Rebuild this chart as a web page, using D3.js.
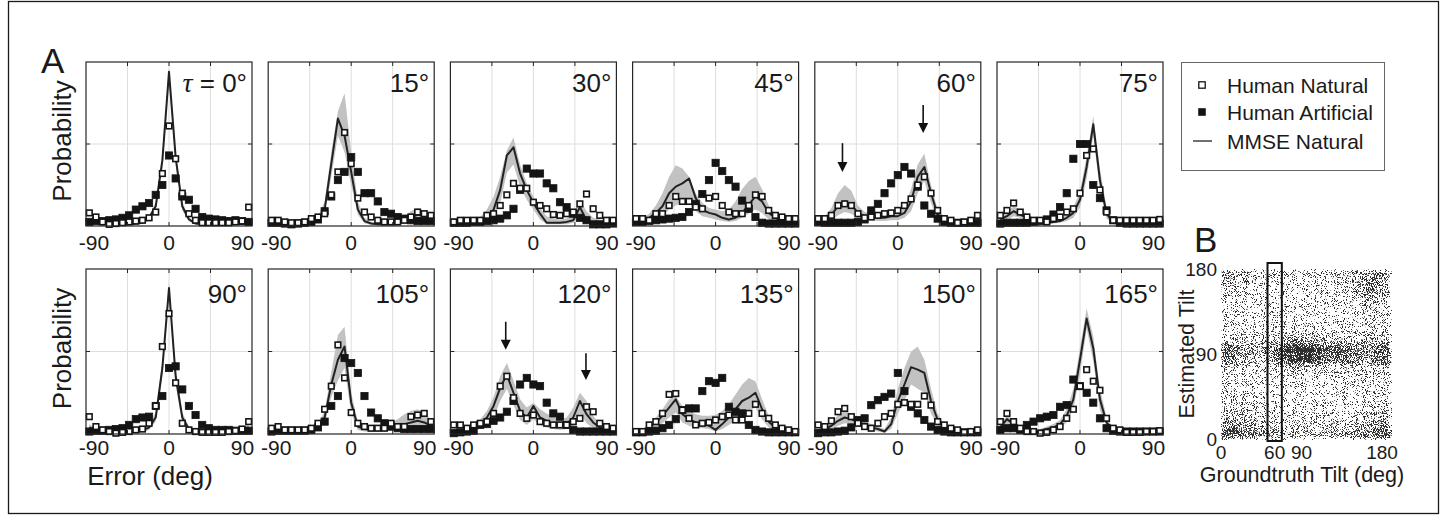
<!DOCTYPE html>
<html><head><meta charset="utf-8">
<script src="https://cdn.jsdelivr.net/npm/d3@7"></script>
<style>
html,body{margin:0;padding:0;background:#fff;}
svg{display:block;font-family:"Liberation Sans",Arial,Helvetica,sans-serif;}
</style></head><body>
<svg id="fig" width="1446" height="521"></svg>
<script>
// ---------------- DATA ----------------
const errorBins = [-86.4,-79.2,-72,-64.8,-57.6,-50.4,-43.2,-36,-28.8,-21.6,-14.4,-7.2,0,7.2,14.4,21.6,28.8,36,43.2,50.4,57.6,64.8,72,79.2,86.4];
const tauValues = [0,15,30,45,60,75,90,105,120,135,150,165];
const xTicks = [-90,0,90];
const xGrid = [-45,0,45];
const yGrid = [20];
const yMax = 40; // probability, percent

// Human Natural (open squares), percent
const humanNatural = [
 [3.2,2.2,1,0.4,0.6,0.8,1,1.2,1.4,2,3.4,12.8,24.4,16.4,8,3,1.4,0.8,0.8,0.8,0.8,0.8,1,1.2,4.6],
 [1.4,1.4,1,0.8,0.8,1,1.8,2.2,3,7.6,13.2,22.8,15.2,6.8,3.4,2.2,1.4,1,1,1,1.4,2.2,3.4,3,2.6],
 [1,1.4,1.4,1.4,1.4,2.6,3,5,7.6,10.4,9.2,9.2,5.8,5,4.2,2.8,2.6,3,3.4,5.4,7.8,4.2,2.6,1.4,1.4],
 [1.8,1.8,1.4,3,3,5,7.2,6,6,4.6,4.2,6.8,7.2,5,3.4,3,3,5,7.6,7.2,3.8,2.6,2.2,1.8,1.8],
 [1.8,1.8,2.6,5,5.4,5,3,2,2.2,2.6,3,3.2,3.8,5,6.6,10,12,8,3.8,1.8,1.4,0.8,1,1.4,2.6],
 [2.6,3.8,5.6,3.4,2.2,1.4,1.4,1,1.8,2.2,3.4,4.2,8,17.2,18.8,8.8,3.4,1.4,1.4,1.4,1.4,1.4,1.4,1.4,1.6],
 [4.2,1.8,1,0.6,0.2,0.4,0.6,1,1.2,2.6,6.8,21.2,29.2,12.4,2.6,1,0.6,0.4,0.4,0.4,0.4,0.6,0.8,1.2,3],
 [1.4,1.8,1,1,1,1,1.4,2.6,6,11.6,21.6,13.6,5.2,2.6,1.8,1.4,1.4,1.4,2.6,1.8,1.8,4.2,4.6,5,3],
 [2.2,2.2,1.4,2.2,2.6,3,5,11.6,14,8.8,5,3.8,4.6,3,2.6,2.2,2.2,2.2,3,3.8,6.6,5.4,2.6,1.8,1.4],
 [0.6,0.6,2.2,3,5,9.6,9.8,5.8,3.8,2.2,2.6,2.8,3.4,4.2,4.6,3.4,3.4,5,7.2,5,3.8,2.2,1.4,1,0.6],
 [2.2,1.8,3.2,5.4,6.2,4.2,2.6,1.8,1.4,2.6,4.2,5,7.2,7.6,7.2,7.2,9.2,7,3,2.2,1.4,1,0.4,0.6,1],
 [3,5,3,1.4,0.6,0.6,0.2,0.4,1,1.8,3.8,6,11.6,15.6,12.8,10.6,3.8,1.4,1,0.4,0.4,0.4,0.6,0.6,0.8]
];
// Human Artificial (filled squares), percent
const humanArtificial = [
 [1,1.2,1.2,1.4,1.6,2,2.6,4,4.8,5.6,7.6,10,17.2,11.6,7.2,6.4,4.2,2.2,1.8,1.6,1.4,1.2,1.4,1.2,1],
 [0.8,0.8,0.6,0.4,0.6,0.8,1,1.6,3.6,7.2,11.2,13.2,16.8,13.2,8,8,6,3.4,3,2.2,1.8,1.4,1.2,1.2,1.2],
 [0.8,0.8,0.8,1,1,1.2,1.4,1.8,2.6,4.2,8.8,14,12.8,12.8,10.4,9.2,5.8,4.6,3,2,1.4,0.4,0.4,0.4,0.6],
 [1,1,1.2,1.4,1.6,1.8,2,2.2,3.4,5.4,7.8,11.2,15.4,13.4,11.2,9.6,6.2,4.2,2.2,0.8,0.6,0.6,0.6,0.6,0.6],
 [1,0.8,0.8,0.8,0.8,0.8,1,1.6,3.8,5.4,8,10.4,12.4,14.4,12.8,9.6,5,3,1.8,1,0.8,0.8,0.8,0.8,0.8],
 [0.6,0.8,0.8,0.8,0.8,1,1.2,1.6,2.8,4.6,8,16.4,20,20,10,6.8,3.8,1.4,0.8,0.6,0.6,0.6,0.6,0.6,0.6],
 [0.6,0.8,0.8,1,1.2,1.4,2.2,3.6,4,4.2,6.8,9.2,16,16.4,10.8,6.8,4.6,2.2,1.4,1,1,1,0.8,0.8,0.8],
 [0.6,0.8,0.8,0.8,0.8,0.8,1,1.6,3,6.8,9.2,18.4,17.2,14.8,9.2,5.2,3.8,2.6,1.8,1.4,1.2,1.2,1.2,1.2,1.2],
 [0.2,0.4,0.6,0.8,2.2,2.4,3.2,4,5.4,8,12,13.6,12,11.6,7.6,5,4.2,2.2,1,0.6,0.6,0.6,0.6,0.6,0.6],
 [0.4,0.4,0.6,0.8,1.4,2.2,3.6,5.8,6.2,6.2,10.4,12.8,12.4,13.6,6.6,5.4,5,2.2,1,0.6,0.4,0.4,0.4,0.4,0.4],
 [0.2,0.4,0.4,0.6,0.8,1.6,3.4,3.8,7,8.2,9,9.8,14.8,10.4,6.6,5,3.4,1.8,1,0.6,0.4,0.4,0.4,0.4,0.4],
 [1,1.4,1.4,1,2.2,3,3.8,4.2,4.6,6.6,7,13.2,11.6,10,7.6,3.8,1.4,0.8,0.6,0.6,0.6,0.6,0.6,0.6,0.6]
];
// MMSE Natural (line), percent
const mmseNatural = [
 [1.2,0.8,0.4,0.4,0.4,0.4,0.4,0.6,0.8,2,4.8,16,37.6,16.8,4.8,1.6,0.6,0.4,0.4,0.4,0.4,0.4,0.6,0.8,1.2],
 [0.4,0.4,0.4,0.4,0.4,0.4,0.8,1.6,4,15.2,26.2,22,13.2,4,1.2,0.6,0.4,0.4,0.4,0.6,1.2,2,2.8,2.4,1.6],
 [0.8,0.8,0.8,1,1.2,2.4,4,8.8,17.2,19.2,12.8,8.8,5.6,3,0.8,0.8,0.8,1,1.4,4.6,1.4,0.8,0.8,0.8,0.8],
 [1.2,1.2,2,3.2,4.8,8,9.6,10.4,11.6,6.8,4,3.2,2.8,2,1.6,2,3.2,5.2,7.2,6,3.2,2,1.2,1.2,1.2],
 [1.2,1.6,2.8,4.8,6,5.2,3.2,2.4,2.4,2,2,2.4,2.4,3.2,6,12,14.4,8,2.8,1.6,1.2,1.2,1.2,1.2,1.2],
 [1.6,2.4,3.6,2.8,2,1.2,0.8,0.8,1,1.2,2,3.2,6.4,14.4,24.8,11.2,3,0.8,0.6,0.4,0.4,0.4,0.4,0.6,0.8],
 [1.6,0.8,0.4,0.4,0.4,0.4,0.4,0.6,0.8,1.6,4,16,35.4,14,4,1.2,0.6,0.4,0.4,0.4,0.4,0.4,0.6,0.8,1.6],
 [0.8,0.8,0.6,0.6,0.6,0.6,0.8,1.6,4,12,18,21.2,7.6,1.8,1.2,1,1,1.2,1.6,2,2.4,2.8,3.2,2.8,2],
 [0.8,0.8,1.2,1.6,2.4,4,6.8,11.2,14.4,10,5.6,4,6.8,4,3.2,2.4,2,2.4,4,8,4.8,2.8,1.6,1.2,0.8],
 [0.6,0.8,1.6,2.8,4.4,6.4,8.4,4.8,3.6,2.8,2.4,2,1,2.4,4,6,8,8.8,10,6,3,1.6,0.8,0.6,0.6],
 [0.8,1.2,2,3.2,4,3.6,2.8,2,1.6,1.2,0.6,2.4,8,12,16.2,15.6,14.8,8,3.4,1.6,0.8,0.6,0.6,0.6,0.8],
 [1.6,3.6,2.4,1.2,0.8,0.8,0.8,1.2,1.6,2.4,4.4,8.4,18,28,20.8,8.4,2.8,0.8,0.4,0.4,0.4,0.4,0.4,0.6,0.8]
];
// MMSE spread (grey band) lower / upper, percent
const mmseLow = [
 [0.8,0.4,0.2,0.2,0.2,0.2,0.2,0.3,0.5,1.4,3.8,14,35,15,3.8,1.2,0.4,0.2,0.2,0.2,0.2,0.2,0.4,0.6,0.8],
 [0.2,0.2,0.2,0.2,0.2,0.2,0.4,1,2.8,12,22,18,10,2.8,0.6,0.3,0.2,0.2,0.2,0.3,0.6,1.2,1.8,1.4,1],
 [0.4,0.4,0.4,0.4,0.6,1.2,2.4,5.6,13,15,9.6,6.4,4,1.6,0.4,0.4,0.4,0.4,0.8,2.8,0.6,0.4,0.4,0.4,0.4],
 [0.6,0.6,1,1.6,2.4,4,5,5.6,6,3.6,2.4,2,1.6,1.2,1,1.2,2,3,4,3.2,1.6,1,0.6,0.6,0.6],
 [0.6,0.8,1.4,2.6,3.4,3,1.8,1.4,1.4,1.2,1.2,1.4,1.4,2,3.6,8,11,5.6,1.6,0.8,0.6,0.6,0.6,0.6,0.6],
 [1,1.6,2.4,2,1.2,0.8,0.4,0.4,0.6,0.8,1.2,2,4.6,11.6,22,8.6,1.8,0.4,0.3,0.2,0.2,0.2,0.2,0.3,0.4],
 [1,0.4,0.2,0.2,0.2,0.2,0.2,0.3,0.4,1,3,14,33.5,12,3,0.8,0.3,0.2,0.2,0.2,0.2,0.2,0.3,0.4,1],
 [0.4,0.4,0.3,0.3,0.3,0.3,0.4,1,2.6,9,13,16,5,1,0.6,0.5,0.5,0.6,0.8,1,1.2,1.4,1.6,1.4,1],
 [0.4,0.4,0.6,0.8,1.2,2,4,8,11,7,3.4,2.2,3.6,2.2,1.6,1.2,1,1.2,2,5,2.6,1.4,0.8,0.6,0.4],
 [0.4,0.4,0.8,1.6,2.6,4,5.2,2.8,2,1.6,1.4,1.2,0.6,1.2,2.2,3.4,4.8,5.6,6.4,3.6,1.6,0.8,0.4,0.4,0.4],
 [0.4,0.6,1.2,2,2.6,2.4,1.8,1.2,1,0.6,0.3,1.2,5,8,12,11,10,5,2,0.8,0.4,0.3,0.3,0.3,0.4],
 [0.8,2.4,1.4,0.6,0.4,0.4,0.4,0.6,0.8,1.4,2.8,6,14.4,25.6,17.6,5.8,1.6,0.4,0.2,0.2,0.2,0.2,0.2,0.3,0.4]
];
const mmseHigh = [
 [1.8,1.2,0.7,0.6,0.6,0.6,0.7,0.9,1.2,2.6,5.8,17.5,38.5,18,5.8,2.2,0.9,0.6,0.6,0.6,0.6,0.7,0.9,1.2,1.8],
 [0.8,0.8,0.7,0.7,0.7,0.8,1.2,2.4,6,18,28,32.4,18,6,2,1,0.8,0.8,0.8,1.2,2.4,3.6,4.4,3.6,2.4],
 [1.4,1.4,1.4,1.6,2.2,4,7.2,12,18.4,21.6,15,10.4,7.2,4.4,2.4,1.8,1.6,1.8,3,6.4,3.6,2,1.6,1.4,1.4],
 [1.6,1.8,3,5,8,12,14.8,14,12,8,5.6,4.4,4,3.6,4,6,9,11,12,9,5,2.8,1.8,1.6,1.6],
 [1.8,2.4,4.4,8,10,8.6,5,3.4,3.2,2.8,2.8,3.2,3.4,4.6,9,15,17.6,10,4,2.2,1.6,1.6,1.6,1.6,1.6],
 [2.4,3.4,4.8,4,3,2,1.4,1.2,1.4,1.8,3,4.6,8.4,17,26.8,14,4.6,1.4,1,0.8,0.8,0.8,1,1.4,2.4],
 [2.4,1.2,0.7,0.6,0.6,0.6,0.6,0.9,1.2,2.2,5.2,18,37,16,5.2,1.8,0.9,0.6,0.6,0.6,0.6,0.6,0.9,1.2,2.4],
 [1.2,1.2,1,1,1,1,1.2,2.4,5.6,15,24,26,10,3,2,1.6,1.6,2,2.8,3.6,4.8,5.6,6,5.2,3.6],
 [1.2,1.2,1.8,2.4,3.6,5.6,9,14,17.2,13,8.4,6.4,7.6,6,5,4.2,3.6,4,6.4,10,8,4.4,2.4,1.6,1.2],
 [1,1.2,2.4,4,6,8.4,9.2,6.8,5.6,4.8,4.4,4.4,4.6,5.6,7.2,9.6,12,13.6,12.8,8.4,4.4,2.4,1.2,1,1],
 [1.2,1.8,3,4.6,5.6,5,4,3,2.4,1.8,1.2,4,11,16,20,21.2,18,11,5,2.4,1.2,0.9,0.9,0.9,1.2],
 [2.4,4.6,3.4,1.8,1.2,1.2,1.2,1.8,2.4,3.4,6,11,21,30.4,23.6,11,4.2,1.4,0.8,0.6,0.6,0.6,0.6,1,1.4]
];
// arrows: panel index, error (deg), top and tip (percent)
const arrowPanel = [4,4,8,8];
const arrowX = [-60,27.5,-30,57];
const arrowTop = [20.2,29.5,27.2,19.6];
const arrowTip = [13.2,22.7,20.4,13.1];

// Panel B: density of (groundtruth, estimated) tilt, rows from estimated 180 (top) down to 0
const tiltColEdges = [0,10,20,30,40,50,60,70,80,90,100,110,120,130,140,150,160,170,180,190];
const tiltRowEdges = [180,170,160,150,140,130,120,110,100,90,80,70,60,50,40,30,20,10,0];
const tiltDensity = [
 [0.55,0.5,0.45,0.4,0.4,0.4,0.4,0.35,0.35,0.35,0.35,0.35,0.4,0.4,0.45,0.55,0.6,0.6,0.55],
 [0.45,0.4,0.35,0.3,0.3,0.3,0.3,0.3,0.3,0.3,0.3,0.3,0.3,0.35,0.4,0.5,0.6,0.55,0.45],
 [0.4,0.35,0.3,0.3,0.3,0.3,0.3,0.3,0.25,0.25,0.3,0.3,0.3,0.3,0.35,0.45,0.55,0.5,0.4],
 [0.35,0.3,0.3,0.25,0.3,0.3,0.3,0.25,0.25,0.25,0.25,0.3,0.3,0.3,0.3,0.4,0.45,0.4,0.35],
 [0.35,0.3,0.25,0.25,0.25,0.3,0.25,0.25,0.25,0.25,0.25,0.25,0.3,0.3,0.3,0.35,0.4,0.35,0.35],
 [0.35,0.3,0.25,0.25,0.25,0.25,0.25,0.25,0.25,0.25,0.25,0.25,0.25,0.3,0.3,0.3,0.35,0.35,0.35],
 [0.35,0.3,0.3,0.3,0.3,0.3,0.3,0.3,0.3,0.3,0.3,0.3,0.3,0.3,0.3,0.35,0.35,0.35,0.35],
 [0.45,0.4,0.4,0.35,0.35,0.4,0.45,0.5,0.5,0.5,0.45,0.45,0.4,0.4,0.4,0.4,0.45,0.45,0.45],
 [0.7,0.6,0.55,0.5,0.5,0.55,0.7,0.85,0.95,0.95,0.9,0.75,0.7,0.7,0.65,0.6,0.6,0.65,0.7],
 [0.65,0.55,0.5,0.45,0.45,0.5,0.65,0.8,0.9,0.9,0.85,0.7,0.65,0.65,0.6,0.55,0.55,0.6,0.65],
 [0.4,0.35,0.3,0.3,0.3,0.35,0.4,0.45,0.45,0.45,0.4,0.4,0.35,0.35,0.35,0.35,0.35,0.4,0.4],
 [0.35,0.3,0.3,0.3,0.25,0.3,0.3,0.3,0.3,0.25,0.25,0.25,0.25,0.25,0.3,0.3,0.3,0.3,0.35],
 [0.35,0.3,0.3,0.3,0.25,0.25,0.25,0.25,0.25,0.25,0.25,0.25,0.25,0.25,0.25,0.3,0.3,0.35,0.35],
 [0.35,0.3,0.35,0.3,0.3,0.25,0.25,0.25,0.25,0.25,0.25,0.25,0.25,0.25,0.25,0.3,0.3,0.35,0.35],
 [0.4,0.35,0.4,0.35,0.3,0.3,0.3,0.25,0.25,0.25,0.25,0.25,0.25,0.25,0.3,0.3,0.35,0.4,0.4],
 [0.45,0.4,0.45,0.4,0.35,0.3,0.3,0.3,0.3,0.3,0.3,0.3,0.3,0.3,0.3,0.35,0.4,0.45,0.45],
 [0.6,0.55,0.55,0.5,0.45,0.4,0.35,0.35,0.35,0.35,0.35,0.35,0.35,0.35,0.4,0.45,0.5,0.55,0.6],
 [0.8,0.75,0.7,0.65,0.6,0.55,0.5,0.45,0.45,0.45,0.45,0.45,0.45,0.5,0.5,0.55,0.65,0.7,0.8]
];
const tiltTicks = [0,60,90,180];
const tiltYTicks = [0,90,180];
const highlightTilt = [52,68];

const legendLabels = ["Human Natural","Human Artificial","MMSE Natural"];

// ---------------- DRAW ----------------
const svg = d3.select("#fig");
const ink = "#1a1a1a";

// outer frame
svg.append("rect").attr("x",8.5).attr("y",1.5).attr("width",1430).attr("height",512)
  .attr("fill","none").attr("stroke",ink).attr("stroke-width",1.3);

const panelW = 166, rowTop = [62,269], rowH = [164,165], colLeft0 = 86, colStep = 182.2;
const titleBase = [92,303];
const tickBase = [250,455];
const sq = 7.2;

tauValues.forEach((tau,k)=>{
  const r = Math.floor(k/6), c = k%6;
  const x0 = colLeft0 + c*colStep, y0 = rowTop[r], h = rowH[r];
  const x = d3.scaleLinear().domain([-90,90]).range([x0,x0+panelW]);
  const y = d3.scaleLinear().domain([0,yMax]).range([y0+h,y0]);
  const g = svg.append("g");

  // grid
  g.selectAll(".gx").data(xGrid).join("line")
    .attr("x1",d=>x(d)).attr("x2",d=>x(d)).attr("y1",y0).attr("y2",y0+h)
    .attr("stroke","#dedede").attr("stroke-width",1);
  g.selectAll(".gy").data(yGrid).join("line")
    .attr("x1",x0).attr("x2",x0+panelW).attr("y1",d=>y(d)).attr("y2",d=>y(d))
    .attr("stroke","#dedede").attr("stroke-width",1);

  // band
  const idx = d3.range(errorBins.length);
  g.append("path").datum(idx)
    .attr("d", d3.area().x(i=>x(errorBins[i])).y0(i=>y(mmseLow[k][i])).y1(i=>y(mmseHigh[k][i])))
    .attr("fill","#c2c2c2").attr("stroke","none");
  // line
  g.append("path").datum(idx)
    .attr("d", d3.line().x(i=>x(errorBins[i])).y(i=>y(mmseNatural[k][i])))
    .attr("fill","none").attr("stroke","#222").attr("stroke-width",2).attr("stroke-linejoin","round");
  // filled squares
  g.selectAll(".art").data(idx).join("rect")
    .attr("x",i=>x(errorBins[i])-sq/2).attr("y",i=>y(humanArtificial[k][i])-sq/2)
    .attr("width",sq).attr("height",sq).attr("fill","#141414").attr("stroke","#141414").attr("stroke-width",0.8);
  // open squares
  g.selectAll(".nat").data(idx).join("rect")
    .attr("x",i=>x(errorBins[i])-(sq-1.6)/2).attr("y",i=>y(humanNatural[k][i])-(sq-1.6)/2)
    .attr("width",sq-1.6).attr("height",sq-1.6).attr("fill","#fff").attr("stroke","#141414").attr("stroke-width",1.6);

  // box
  g.append("rect").attr("x",x0).attr("y",y0).attr("width",panelW).attr("height",h)
    .attr("fill","none").attr("stroke","#262626").attr("stroke-width",1.2);
  // inner ticks
  const tl = 4;
  xGrid.forEach(v=>{
    g.append("line").attr("x1",x(v)).attr("x2",x(v)).attr("y1",y0).attr("y2",y0+tl).attr("stroke","#262626");
    g.append("line").attr("x1",x(v)).attr("x2",x(v)).attr("y1",y0+h).attr("y2",y0+h-tl).attr("stroke","#262626");
  });
  yGrid.forEach(v=>{
    g.append("line").attr("x1",x0).attr("x2",x0+tl).attr("y1",y(v)).attr("y2",y(v)).attr("stroke","#262626");
    g.append("line").attr("x1",x0+panelW).attr("x2",x0+panelW-tl).attr("y1",y(v)).attr("y2",y(v)).attr("stroke","#262626");
  });
  // tick labels
  const tdx = {"-90":8, "0":0, "90":-9.5};
  g.selectAll(".tl").data(xTicks).join("text")
    .attr("x",d=>x(d)+tdx[d]).attr("y",tickBase[r]).attr("text-anchor","middle")
    .attr("font-size",21).attr("fill",ink).text(d=>d);

  // title
  const t = g.append("text").attr("x",x0+panelW-5).attr("y",titleBase[r]).attr("text-anchor","end")
    .attr("font-size",26).attr("fill",ink);
  if (k===0) {
    t.append("tspan").attr("font-family","'Liberation Serif','DejaVu Serif',serif").attr("font-style","italic").attr("font-size",28).text("τ");
    t.append("tspan").text(" = " + tau + "°");
  } else {
    t.text(tau + "°");
  }

  // arrows
  arrowPanel.forEach((p,j)=>{
    if (p!==k) return;
    const ax = x(arrowX[j]), ay1 = y(arrowTop[j]), ay2 = y(arrowTip[j]);
    g.append("line").attr("x1",ax).attr("x2",ax).attr("y1",ay1).attr("y2",ay2-8)
      .attr("stroke","#111").attr("stroke-width",1.6);
    g.append("path").attr("d",`M${ax-5},${ay2-10}L${ax+5},${ay2-10}L${ax},${ay2}Z`).attr("fill","#111");
  });

  // y label
  if (c===0) {
    svg.append("text").attr("transform",`translate(71,${y0+h/2-3}) rotate(-90)`)
      .attr("text-anchor","middle").attr("font-size",26).attr("fill",ink).text("Probability");
  }
});

// x label
svg.append("text").attr("x",150).attr("y",485).attr("text-anchor","middle")
  .attr("font-size",26).attr("fill",ink).text("Error (deg)");

// panel letters
svg.append("text").attr("x",41).attr("y",73).attr("font-size",35).attr("fill",ink).text("A");
svg.append("text").attr("x",1194).attr("y",252).attr("font-size",35).attr("fill",ink).text("B");

// legend
const lg = svg.append("g");
lg.append("rect").attr("x",1181.5).attr("y",62.5).attr("width",203).attr("height",108)
  .attr("fill","#fff").attr("stroke","#666").attr("stroke-width",1);
const lgY = [85,112,141];
lg.append("rect").attr("x",1202-3.2).attr("y",lgY[0]-3.2).attr("width",6.4).attr("height",6.4)
  .attr("fill","#fff").attr("stroke","#141414").attr("stroke-width",1.3);
lg.append("rect").attr("x",1202-3.8).attr("y",lgY[1]-3.8).attr("width",7.6).attr("height",7.6).attr("fill","#141414");
lg.append("line").attr("x1",1193).attr("x2",1212).attr("y1",lgY[2]).attr("y2",lgY[2]).attr("stroke","#222").attr("stroke-width",1.3);
lg.selectAll(".lt").data(legendLabels).join("text")
  .attr("x",1227).attr("y",(d,i)=>lgY[i]+7.5).attr("font-size",21).attr("fill",ink).text(d=>d);

// Panel B
const xB = d3.scaleLinear().domain([0,180]).range([1221,1382]);
const yB = d3.scaleLinear().domain([0,180]).range([439,269]);
const defs = svg.append("defs");
const f = defs.append("filter").attr("id","speckle").attr("x",0).attr("y",0).attr("width",1).attr("height",1)
  .attr("color-interpolation-filters","sRGB");
f.append("feGaussianBlur").attr("in","SourceGraphic").attr("stdDeviation",2.5).attr("result","dens");
f.append("feTurbulence").attr("type","fractalNoise").attr("baseFrequency",1.1).attr("numOctaves",2).attr("seed",4).attr("result","noise");
f.append("feColorMatrix").attr("in","noise").attr("type","matrix")
  .attr("values","0 0 0 0 0  0 0 0 0 0  0 0 0 0 0  2.6 0 0 0 -0.74").attr("result","na");
f.append("feComposite").attr("in","dens").attr("in2","na").attr("operator","arithmetic")
  .attr("k1",0).attr("k2",1).attr("k3",-1).attr("k4",0).attr("result","diff");
f.append("feComponentTransfer").attr("in","diff").append("feFuncA").attr("type","linear").attr("slope",7).attr("intercept",0);

const cells = [];
tiltDensity.forEach((row,ri)=>row.forEach((d,ci)=>cells.push({ri,ci,d})));
const hg = svg.append("g").attr("filter","url(#speckle)").attr("opacity",0.82);
hg.selectAll("rect").data(cells).join("rect")
  .attr("x",d=>xB(tiltColEdges[d.ci])).attr("width",d=>xB(tiltColEdges[d.ci+1])-xB(tiltColEdges[d.ci])+0.5)
  .attr("y",d=>yB(tiltRowEdges[d.ri])).attr("height",d=>yB(tiltRowEdges[d.ri+1])-yB(tiltRowEdges[d.ri])+0.5)
  .attr("fill","#000").attr("fill-opacity",d=>d.d);

// highlight rectangle
svg.append("rect").attr("x",xB(highlightTilt[0])).attr("width",xB(highlightTilt[1])-xB(highlightTilt[0]))
  .attr("y",yB(180)-6).attr("height",yB(0)-yB(180)+8)
  .attr("fill","none").attr("stroke","#111").attr("stroke-width",2);

// B ticks
svg.selectAll(".bx").data(tiltTicks).join("text")
  .attr("x",d=>xB(d)).attr("y",459).attr("text-anchor","middle").attr("font-size",19).attr("fill",ink).text(d=>d);
svg.selectAll(".by").data(tiltYTicks).join("text")
  .attr("x",1217).attr("y",d=>yB(d)+7).attr("text-anchor","end").attr("font-size",19).attr("fill",ink).text(d=>d);
svg.append("text").attr("x",1302).attr("y",482).attr("text-anchor","middle").attr("font-size",21.5).attr("fill",ink).text("Groundtruth Tilt (deg)");
svg.append("text").attr("transform","translate(1194,354) rotate(-90)").attr("text-anchor","middle")
  .attr("font-size",21.5).attr("fill",ink).text("Estimated Tilt");
</script>
</body></html>
